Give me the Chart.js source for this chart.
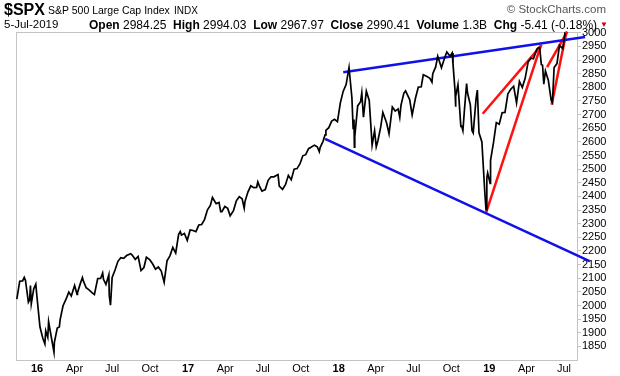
<!DOCTYPE html>
<html>
<head>
<meta charset="utf-8">
<script src="https://cdn.jsdelivr.net/npm/chart.js@4/dist/chart.umd.min.js"></script>
<style>
	body { margin: 0; background: #fff; }
	#wrap { position: relative; width: 620px; height: 376px; font-family: "Liberation Sans", Arial, sans-serif; color: #000; }
	#chart { position: absolute; left: 0; top: 0; }
	.t { position: absolute; white-space: nowrap; line-height: 1; }
	.b { font-weight: bold; }
</style>
</head>
<body>
<div id="wrap">
	<canvas id="chart" width="620" height="376"></canvas>
	<div class="t b" style="left:4px; top:2px; font-size:16px;">$SPX</div>
	<div class="t" style="left:48px; top:5px; font-size:10.5px;">S&amp;P 500 Large Cap Index</div>
	<div class="t" style="left:174px; top:6px; font-size:10px;">INDX</div>
	<div class="t" style="right:14px; top:4px; font-size:11.5px; color:#555;">© StockCharts.com</div>
	<div class="t" style="left:4px; top:19px; font-size:11.5px;">5-Jul-2019</div>
	<div class="t" style="left:89px; top:19px; font-size:12px;"><span class="b">Open</span> 2984.25 &nbsp;<span class="b">High</span> 2994.03 &nbsp;<span class="b">Low</span> 2967.97 &nbsp;<span class="b">Close</span> 2990.41 &nbsp;<span class="b">Volume</span> 1.3B &nbsp;<span class="b">Chg</span> -5.41 (-0.18%)</div>
	<div class="t" style="left:600px; top:21px; font-size:8px; color:#c00;">▼</div>
</div>
<script>
// Daily closes (not every day, mostly weekly with the turning points)
const DATES = [
	"2015-11-13", "2015-11-20", "2015-11-27", "2015-12-01", "2015-12-04", "2015-12-11", "2015-12-14", "2015-12-16", "2015-12-18", "2015-12-24", "2015-12-29", "2015-12-31",
	"2016-01-08", "2016-01-15", "2016-01-20", "2016-01-22", "2016-01-27", "2016-01-29", "2016-02-05", "2016-02-11", "2016-02-12", "2016-02-19", "2016-02-24", "2016-02-26",
	"2016-03-04", "2016-03-11", "2016-03-18", "2016-03-24", "2016-04-01", "2016-04-07", "2016-04-08", "2016-04-15", "2016-04-20", "2016-04-22", "2016-04-29", "2016-05-06",
	"2016-05-13", "2016-05-19", "2016-05-27", "2016-06-03", "2016-06-08", "2016-06-10", "2016-06-16", "2016-06-23", "2016-06-24", "2016-06-27", "2016-07-01", "2016-07-08",
	"2016-07-15", "2016-07-22", "2016-07-29", "2016-08-05", "2016-08-15", "2016-08-19", "2016-08-26", "2016-09-02", "2016-09-09", "2016-09-16", "2016-09-22", "2016-09-30",
	"2016-10-07", "2016-10-14", "2016-10-21", "2016-10-28", "2016-11-04", "2016-11-11", "2016-11-18", "2016-11-25", "2016-12-02", "2016-12-09", "2016-12-13", "2016-12-16",
	"2016-12-23", "2016-12-30",
	"2017-01-06", "2017-01-13", "2017-01-20", "2017-01-27", "2017-02-03", "2017-02-10", "2017-02-17", "2017-02-24", "2017-03-01", "2017-03-10", "2017-03-17", "2017-03-21",
	"2017-03-24", "2017-03-31", "2017-04-07", "2017-04-13", "2017-04-21", "2017-04-28", "2017-05-05", "2017-05-12", "2017-05-17", "2017-05-19", "2017-05-26", "2017-06-02",
	"2017-06-09", "2017-06-16", "2017-06-19", "2017-06-23", "2017-06-29", "2017-07-07", "2017-07-14", "2017-07-21", "2017-07-28", "2017-08-07", "2017-08-10", "2017-08-18",
	"2017-08-25", "2017-09-01", "2017-09-08", "2017-09-15", "2017-09-22", "2017-09-29", "2017-10-06", "2017-10-13", "2017-10-20", "2017-10-27", "2017-11-03", "2017-11-10",
	"2017-11-15", "2017-11-17", "2017-11-24", "2017-11-29", "2017-12-01", "2017-12-08", "2017-12-15", "2017-12-22", "2017-12-29",
	"2018-01-05", "2018-01-12", "2018-01-19", "2018-01-26", "2018-02-02", "2018-02-05", "2018-02-07", "2018-02-08", "2018-02-09", "2018-02-16", "2018-02-23", "2018-02-26",
	"2018-03-02", "2018-03-09", "2018-03-16", "2018-03-23", "2018-03-29", "2018-04-02", "2018-04-06", "2018-04-13", "2018-04-18", "2018-04-27", "2018-05-03", "2018-05-11",
	"2018-05-18", "2018-05-25", "2018-05-29", "2018-06-01", "2018-06-08", "2018-06-12", "2018-06-22", "2018-06-28", "2018-07-06", "2018-07-13", "2018-07-20", "2018-07-25",
	"2018-08-03", "2018-08-10", "2018-08-15", "2018-08-17", "2018-08-24", "2018-08-29", "2018-09-07", "2018-09-14", "2018-09-20", "2018-09-28", "2018-10-03", "2018-10-05",
	"2018-10-10", "2018-10-11", "2018-10-12", "2018-10-17", "2018-10-19", "2018-10-24", "2018-10-26", "2018-10-29", "2018-11-02", "2018-11-07", "2018-11-09", "2018-11-16",
	"2018-11-20", "2018-11-23", "2018-11-30", "2018-12-03", "2018-12-07", "2018-12-14", "2018-12-21", "2018-12-24", "2018-12-26", "2018-12-28",
	"2019-01-03", "2019-01-04", "2019-01-11", "2019-01-18", "2019-01-25", "2019-02-01", "2019-02-08", "2019-02-15", "2019-02-22", "2019-03-01", "2019-03-08", "2019-03-15",
	"2019-03-22", "2019-03-29", "2019-04-05", "2019-04-12", "2019-04-18", "2019-04-26", "2019-04-30", "2019-05-03", "2019-05-07", "2019-05-10", "2019-05-13", "2019-05-17",
	"2019-05-24", "2019-05-31", "2019-06-03", "2019-06-07", "2019-06-14", "2019-06-20", "2019-06-28", "2019-07-03", "2019-07-05",
];
const CLOSES = [
	2023, 2089, 2090, 2103, 2092, 2012, 2021, 2073, 2006, 2061, 2078, 2044,
	1922, 1880, 1859, 1907, 1883, 1940, 1880, 1829, 1865, 1917, 1921, 1948,
	1999, 2022, 2049, 2035, 2073, 2041, 2047, 2081, 2102, 2091, 2065, 2057,
	2047, 2040, 2099, 2099, 2119, 2096, 2077, 2113, 2037, 2001, 2103, 2130,
	2162, 2175, 2173, 2183, 2190, 2184, 2169, 2180, 2128, 2139, 2177, 2168,
	2153, 2133, 2141, 2126, 2085, 2164, 2182, 2213, 2192, 2260, 2271, 2258,
	2264, 2239,
	2277, 2275, 2271, 2295, 2297, 2316, 2351, 2367, 2396, 2373, 2378, 2344,
	2344, 2363, 2356, 2329, 2348, 2384, 2399, 2391, 2357, 2382, 2416, 2439,
	2432, 2433, 2453, 2438, 2419, 2425, 2459, 2472, 2472, 2480, 2438, 2426,
	2443, 2477, 2461, 2500, 2502, 2519, 2549, 2553, 2575, 2581, 2588, 2582,
	2564, 2579, 2602, 2626, 2642, 2652, 2676, 2683, 2674,
	2743, 2786, 2810, 2873, 2762, 2649, 2682, 2581, 2620, 2732, 2747, 2780,
	2691, 2786, 2752, 2588, 2641, 2582, 2604, 2656, 2708, 2670, 2630, 2728,
	2713, 2721, 2690, 2735, 2779, 2787, 2755, 2699, 2760, 2801, 2802, 2846,
	2840, 2833, 2819, 2850, 2875, 2914, 2872, 2905, 2930, 2914, 2926, 2886,
	2786, 2729, 2767, 2810, 2768, 2657, 2658, 2641, 2723, 2814, 2781, 2736,
	2642, 2633, 2760, 2790, 2633, 2600, 2417, 2351, 2468, 2486,
	2448, 2532, 2596, 2671, 2665, 2707, 2708, 2776, 2793, 2804, 2743, 2822,
	2800, 2834, 2893, 2907, 2905, 2940, 2946, 2946, 2884, 2881, 2812, 2860,
	2826, 2752, 2744, 2873, 2887, 2954, 2942, 2996, 2990,
];

// Trend lines drawn on the chart (start / end)
const TOP_LINE_DATES = ["2018-01-12", "2019-08-21"];
const TOP_LINE_VALUES = [2855, 2985];
const LOW_LINE_DATES = ["2017-11-29", "2019-09-01"];
const LOW_LINE_VALUES = [2611, 2163];
const RED1_DATES = ["2018-12-16", "2019-05-08"];
const RED1_VALUES = [2703, 2956];
const RED2_DATES = ["2018-12-24", "2019-05-06"];
const RED2_VALUES = [2340, 2954];
const RED3_DATES = ["2019-05-21", "2019-07-09"];
const RED3_VALUES = [2874, 3004];
const RED4_DATES = ["2019-06-01", "2019-07-07"];
const RED4_VALUES = [2736, 3004];

// Axis ticks
const TICK_DATES = [
	"2016-01-01", "2016-04-01", "2016-07-01", "2016-10-01", "2017-01-01", "2017-04-01", "2017-07-01", "2017-10-01",
	"2018-01-01", "2018-04-01", "2018-07-01", "2018-10-01", "2019-01-01", "2019-04-01", "2019-07-01",
];
const TICK_LABELS = ["16", "Apr", "Jul", "Oct", "17", "Apr", "Jul", "Oct", "18", "Apr", "Jul", "Oct", "19", "Apr", "Jul"];
const Y_TICKS = [
	1850, 1900, 1950, 2000, 2050, 2100, 2150, 2200, 2250, 2300, 2350, 2400,
	2450, 2500, 2550, 2600, 2650, 2700, 2750, 2800, 2850, 2900, 2950, 3000,
];

const FONT = "'Liberation Sans', Arial, sans-serif";

// days since 1 Jan 2016
const dayIdx = (s) => {
	const [y, m, d] = s.split("-").map(Number);
	return (Date.UTC(y, m - 1, d) - Date.UTC(2016, 0, 1)) / 86400000;
};
const toPoints = (dates, values) => dates.map((d, i) => ({ x: dayIdx(d), y: values[i] }));

const trend = (dates, values, color) => ({
	data: toPoints(dates, values),
	borderColor: color,
	borderWidth: 2.5,
	pointRadius: 0,
	clip: false,
});

// grey frame round the plot
const frame = {
	id: "frame",
	beforeDatasetsDraw(chart) {
		const { ctx, chartArea: a } = chart;
		ctx.save();
		ctx.strokeStyle = "#c4c4c4";
		ctx.lineWidth = 1;
		ctx.strokeRect(Math.round(a.left) + 0.5, Math.round(a.top) + 0.5, Math.round(a.right - a.left), Math.round(a.bottom - a.top));
		ctx.restore();
	},
};

new Chart(document.getElementById("chart"), {
	type: "line",
	data: {
		datasets: [
			{
				data: toPoints(DATES, CLOSES),
				borderColor: "#000",
				borderWidth: 1.7,
				pointRadius: 0,
				tension: 0,
			},
			trend(TOP_LINE_DATES, TOP_LINE_VALUES, "#1010e8"),
			trend(LOW_LINE_DATES, LOW_LINE_VALUES, "#1010e8"),
			trend(RED1_DATES, RED1_VALUES, "#ff1010"),
			trend(RED2_DATES, RED2_VALUES, "#ff1010"),
			trend(RED3_DATES, RED3_VALUES, "#ff1010"),
			trend(RED4_DATES, RED4_VALUES, "#ff1010"),
		],
	},
	options: {
		responsive: false,
		animation: false,
		devicePixelRatio: 1,
		layout: {
			padding: { left: 16, top: 32, right: 0, bottom: 0 },
		},
		scales: {
			x: {
				type: "linear",
				min: -51,
				max: 1308.5,
				grid: { display: false, drawTicks: false, tickLength: 0 },
				border: { display: false },
				afterBuildTicks: (scale) => {
					scale.ticks = TICK_DATES.map((d) => ({ value: dayIdx(d) }));
				},
				afterFit: (scale) => {
					scale.height = 16;
				},
				ticks: {
					autoSkip: false,
					maxRotation: 0,
					padding: 2,
					color: "#000",
					font: (ctx) => ({
						family: FONT,
						size: 11,
						weight: ctx.index % 4 === 0 ? "bold" : "normal",
					}),
					callback: (value, index) => TICK_LABELS[index],
				},
			},
			y: {
				position: "right",
				min: 1800,
				max: 3003,
				grid: {
					drawOnChartArea: false,
					drawTicks: true,
					tickLength: 4,
					color: "#c4c4c4",
				},
				border: { display: false },
				afterBuildTicks: (scale) => {
					scale.ticks = Y_TICKS.map((v) => ({ value: v }));
				},
				afterFit: (scale) => {
					scale.width = 43;
				},
				ticks: {
					autoSkip: false,
					padding: 1,
					color: "#000",
					font: { family: FONT, size: 11 },
					callback: (value) => String(value),
				},
			},
		},
		plugins: {
			legend: { display: false },
			tooltip: { enabled: false },
		},
	},
	plugins: [frame],
});
</script>
</body>
</html>
